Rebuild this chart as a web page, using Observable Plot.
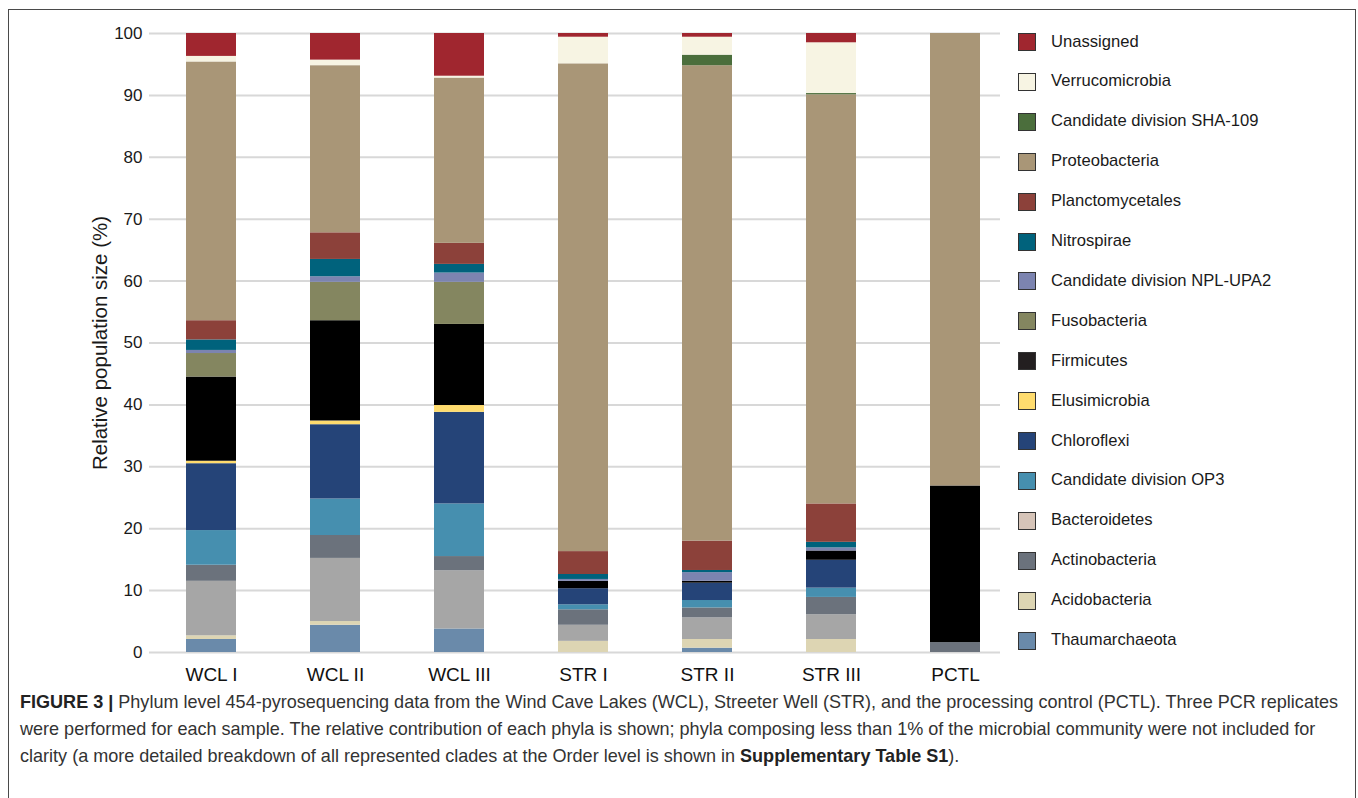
<!DOCTYPE html>
<html>
<head>
<meta charset="utf-8">
<script src="https://cdn.jsdelivr.net/npm/d3@7"></script>
<script src="https://cdn.jsdelivr.net/npm/@observablehq/plot@0.6"></script>
<style>
  html, body { margin: 0; padding: 0; background: #fff; width: 1358px; height: 798px; overflow: hidden; }
  #frame { position: absolute; left: 8px; top: 9px; width: 1346px; height: 820px; border: 1.5px solid #4a4a4a; border-bottom: none; }
  #chart { position: absolute; left: 0; top: 0; }
  #legend { position: absolute; left: 1018px; top: 33px; font-family: Arial, "Liberation Sans", sans-serif; font-size: 16.6px; color: #1a1a1a; }
  .row { position: absolute; left: 0; height: 18px; white-space: nowrap; }
  .sw { position: absolute; left: 0; top: 0; width: 16px; height: 16px; border: 1px solid #333; }
  .lb { position: absolute; left: 33px; top: -1.5px; line-height: 20px; }
  #caption { position: absolute; left: 20px; top: 688px; font-family: "Liberation Sans Narrow", Arial, "Liberation Sans", sans-serif; font-size: 18.5px; line-height: 27px; color: #333; }
  .cl { white-space: nowrap; transform-origin: 0 50%; height: 27px; }
  #caption b { color: #222; }
</style>
</head>
<body>
<div id="frame"></div>
<div id="chart"></div>
<div id="legend"></div>
<div id="caption">
  <div class="cl"><b>FIGURE 3 |</b> Phylum level 454-pyrosequencing data from the Wind Cave Lakes (WCL), Streeter Well (STR), and the processing control (PCTL). Three PCR replicates</div>
  <div class="cl">were performed for each sample. The relative contribution of each phyla is shown; phyla composing less than 1% of the microbial community were not included for</div>
  <div class="cl">clarity (a more detailed breakdown of all represented clades at the Order level is shown in <b>Supplementary Table S1</b>).</div>
</div>
<script>
// Samples (x categories)
const samples = ["WCL I", "WCL II", "WCL III", "STR I", "STR II", "STR III", "PCTL"];

// Relative population size (%) per phylum, one value per sample
const thaumarchaeota   = [2.1, 4.4, 3.8, 0, 0.7, 0, 0];
const acidobacteria    = [0.6, 0.6, 0, 1.8, 1.4, 2.1, 0];
const bacteroidetes    = [8.8, 10.2, 9.4, 2.6, 3.5, 4.0, 0];
const actinobacteria   = [2.6, 3.7, 2.3, 2.5, 1.6, 2.8, 1.6];
const op3              = [5.6, 5.9, 8.5, 0.8, 1.2, 1.5, 0];
const chloroflexi      = [10.8, 12.0, 14.8, 2.6, 2.8, 4.5, 0];
const elusimicrobia    = [0.4, 0.6, 1.1, 0, 0, 0, 0];
const firmicutes       = [13.6, 16.2, 13.1, 1.2, 0.3, 1.5, 25.3];
const fusobacteria     = [3.8, 6.2, 6.8, 0, 0, 0, 0];
const nplUpa2          = [0.5, 0.9, 1.5, 0.3, 1.4, 0.5, 0];
const nitrospirae      = [1.7, 2.8, 1.4, 0.8, 0.35, 0.9, 0];
const planctomycetales = [3.1, 4.3, 3.4, 3.7, 4.75, 6.2, 0];
const proteobacteria   = [41.8, 27.0, 26.7, 78.8, 76.8, 66.1, 73.1];
const sha109           = [0, 0, 0, 0, 1.7, 0.2, 0];
const verrucomicrobia  = [0.9, 0.9, 0.3, 4.3, 2.9, 8.2, 0];
const unassigned       = [3.7, 4.3, 6.9, 0.6, 0.6, 1.5, 0];

// Stack order, bottom to top
const stackOrder = ["Thaumarchaeota", "Acidobacteria", "Bacteroidetes", "Actinobacteria",
  "Candidate division OP3", "Chloroflexi", "Elusimicrobia", "Firmicutes", "Fusobacteria",
  "Candidate division NPL-UPA2", "Nitrospirae", "Planctomycetales", "Proteobacteria",
  "Candidate division SHA-109", "Verrucomicrobia", "Unassigned"];
const seriesValues = [thaumarchaeota, acidobacteria, bacteroidetes, actinobacteria, op3,
  chloroflexi, elusimicrobia, firmicutes, fusobacteria, nplUpa2, nitrospirae,
  planctomycetales, proteobacteria, sha109, verrucomicrobia, unassigned];
const barColors = ["#6a8aaa", "#ddd5b3", "#a6a6a6", "#6b727c", "#468faf", "#254478",
  "#ffdc6e", "#000000", "#848660", "#7c84b0", "#00627c", "#8c413a", "#a99677",
  "#4b6e3c", "#f7f4e3", "#a0262f"];

// Legend (top to bottom)
const legendOrder = ["Unassigned", "Verrucomicrobia", "Candidate division SHA-109", "Proteobacteria",
  "Planctomycetales", "Nitrospirae", "Candidate division NPL-UPA2", "Fusobacteria", "Firmicutes",
  "Elusimicrobia", "Chloroflexi", "Candidate division OP3", "Bacteroidetes", "Actinobacteria",
  "Acidobacteria", "Thaumarchaeota"];
const legendColors = ["#a0262f", "#f7f4e3", "#4b6e3c", "#a99677", "#8c413a", "#00627c",
  "#7c84b0", "#848660", "#231f20", "#ffdc6e", "#254478", "#468faf", "#d6c4b8", "#6b727c",
  "#ddd5b3", "#6a8aaa"];

const yTicks = [0, 10, 20, 30, 40, 50, 60, 70, 80, 90, 100];

const rows = [];
stackOrder.forEach((p, i) => {
  samples.forEach((s, j) => rows.push({sample: s, phylum: p, value: seriesValues[i][j]}));
});

const chart = Plot.plot({
  width: 1000,
  height: 695,
  marginLeft: 149,
  marginRight: 0,
  marginTop: 33,
  marginBottom: 43,
  style: {fontFamily: "Arial, 'Liberation Sans', sans-serif", background: "transparent"},
  x: {domain: samples, paddingInner: 0.6, paddingOuter: 0.23, align: 0.65},
  y: {domain: [0, 100]},
  color: {domain: stackOrder, range: barColors},
  marks: [
    Plot.gridY(yTicks, {stroke: "#d8d8d8", strokeOpacity: 1, strokeWidth: 2}),
    Plot.barY(rows, Plot.stackY({order: stackOrder}, {x: "sample", y: "value", z: "phylum", fill: "phylum", inset: 0})),
    Plot.axisY(yTicks, {tickSize: 0, tickPadding: 7, fontSize: 17, fill: "#1a1a1a",
      label: "Relative population size (%)", labelAnchor: "center", labelOffset: 57, labelArrow: "none"}),
    Plot.axisX({tickSize: 0, tickPadding: 15, fontSize: 19, fill: "#111", label: null})
  ]
});
chart.querySelectorAll("[aria-label='y-axis label'] text, [aria-label='y-axis label']").forEach(n => { n.setAttribute("font-size", 20.5); });
document.getElementById("chart").appendChild(chart);

const legend = document.getElementById("legend");
legendOrder.forEach((name, i) => {
  const row = document.createElement("div");
  row.className = "row";
  row.style.top = (i * 39.9) + "px";
  row.innerHTML = `<div class="sw" style="background:${legendColors[i]}"></div><div class="lb">${name}</div>`;
  legend.appendChild(row);
});

// condense caption lines so the first line spans the reference width
const lines = document.querySelectorAll("#caption .cl");
const range = document.createRange();
range.selectNodeContents(lines[0]);
const w0 = range.getBoundingClientRect().width;
const s = 1318 / w0;
lines.forEach(l => { l.style.transform = `scaleX(${s})`; });
</script>
</body>
</html>
